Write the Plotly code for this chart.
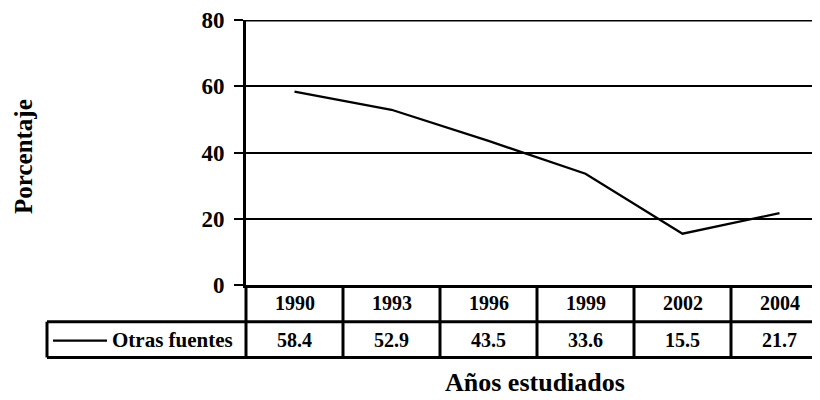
import plotly.graph_objects as go

# ---- data ----
years = ["1990", "1993", "1996", "1999", "2002", "2004"]
otras_fuentes = [58.4, 52.9, 43.5, 33.6, 15.5, 21.7]
series_name = "Otras fuentes"
y_ticks = [0, 20, 40, 60, 80]
x_title = "Años estudiados"
y_title = "Porcentaje"

# ---- layout geometry (page pixels; page body has an 8px margin) ----
OFF = 8
W, H = 820 - OFF, 400 - OFF
PLOT_L, PLOT_T, PLOT_B = 246, 18, 285   # page coords
L, R, T, B = PLOT_L - OFF, 0, PLOT_T - OFF, H - (PLOT_B - OFF)
PW, PH = W - L - R, H - T - B
COL = 97.0  # column width in px

def px_x(p):
    return (p - OFF - L) / PW

def px_y(p):
    return (PLOT_B - p) / PH

FONT = "Liberation Serif, Times New Roman, serif"
idx = list(range(len(years)))

fig = go.Figure()
fig.add_trace(go.Scatter(
    x=idx, y=otras_fuentes, mode="lines", name=series_name,
    line=dict(color="black", width=2.3), showlegend=False,
))

shapes = []
row1_bottom = 322
row2_bottom = 358
# top border line at 80
shapes.append(dict(type="line", xref="paper", yref="y", x0=0, x1=1, y0=80, y1=80,
                   line=dict(color="black", width=3)))
# axis extension down through the table
shapes.append(dict(type="line", xref="paper", yref="paper", x0=0, x1=0,
                   y0=px_y(PLOT_B), y1=px_y(row2_bottom), line=dict(color="black", width=3)))
# column separators
for i in idx[:-1]:
    shapes.append(dict(type="line", xref="x", yref="paper", x0=i + 0.5, x1=i + 0.5,
                       y0=px_y(PLOT_B), y1=px_y(row2_bottom), line=dict(color="black", width=3)))
# horizontal rows
for yy in (row1_bottom, row2_bottom):
    shapes.append(dict(type="line", xref="paper", yref="paper", x0=px_x(47), x1=1,
                       y0=px_y(yy), y1=px_y(yy), line=dict(color="black", width=3)))
# legend box left edge
shapes.append(dict(type="line", xref="paper", yref="paper", x0=px_x(47), x1=px_x(47),
                   y0=px_y(row1_bottom), y1=px_y(row2_bottom), line=dict(color="black", width=3)))
# legend sample line
shapes.append(dict(type="line", xref="paper", yref="paper", x0=px_x(53), x1=px_x(107),
                   y0=px_y(341), y1=px_y(341), line=dict(color="black", width=2.3)))

annotations = []
tfont = dict(family=FONT, size=20, color="black", weight="bold")
for i, (yr, v) in enumerate(zip(years, otras_fuentes)):
    annotations.append(dict(x=i, y=px_y((PLOT_B + row1_bottom) / 2), xref="x", yref="paper",
                            text=yr, showarrow=False, font=tfont,
                            xanchor="center", yanchor="middle"))
    annotations.append(dict(x=i, y=px_y((row1_bottom + row2_bottom) / 2), xref="x", yref="paper",
                            text=f"{v:.1f}", showarrow=False, font=tfont,
                            xanchor="center", yanchor="middle"))
annotations.append(dict(x=px_x(235), y=px_y(340), xref="paper", yref="paper",
                        text=series_name, showarrow=False,
                        font=dict(family=FONT, size=21, color="black", weight="bold"),
                        xanchor="right", yanchor="middle"))
annotations.append(dict(x=px_x(535), y=px_y(383), xref="paper", yref="paper",
                        text=x_title, showarrow=False,
                        font=dict(family=FONT, size=26, color="black", weight="bold"),
                        xanchor="center", yanchor="middle"))
annotations.append(dict(x=px_x(24), y=px_y(156), xref="paper", yref="paper",
                        text=y_title, showarrow=False, textangle=-90,
                        font=dict(family=FONT, size=25, color="black", weight="bold"),
                        xanchor="center", yanchor="middle"))

fig.update_layout(
    width=W, height=H,
    margin=dict(l=L, r=R, t=T, b=B, pad=0),
    plot_bgcolor="white", paper_bgcolor="white",
    showlegend=False,
    shapes=shapes, annotations=annotations,
    xaxis=dict(range=[-0.5, -0.5 + PW / COL], showticklabels=False, showgrid=False,
               zeroline=False, showline=True, linecolor="black", linewidth=3, ticks=""),
    yaxis=dict(range=[0, 80], tickvals=y_ticks, ticktext=[str(t) for t in y_ticks],
               showgrid=True, gridcolor="black", gridwidth=2, zeroline=False,
               showline=True, linecolor="black", linewidth=3,
               ticks="outside", ticklen=9, tickwidth=2, tickcolor="black",
               ticklabelstandoff=5, ticklabeloverflow="allow",
               tickfont=dict(family=FONT, size=23, color="black", weight="bold")),
)

fig.write_html("out.html")
